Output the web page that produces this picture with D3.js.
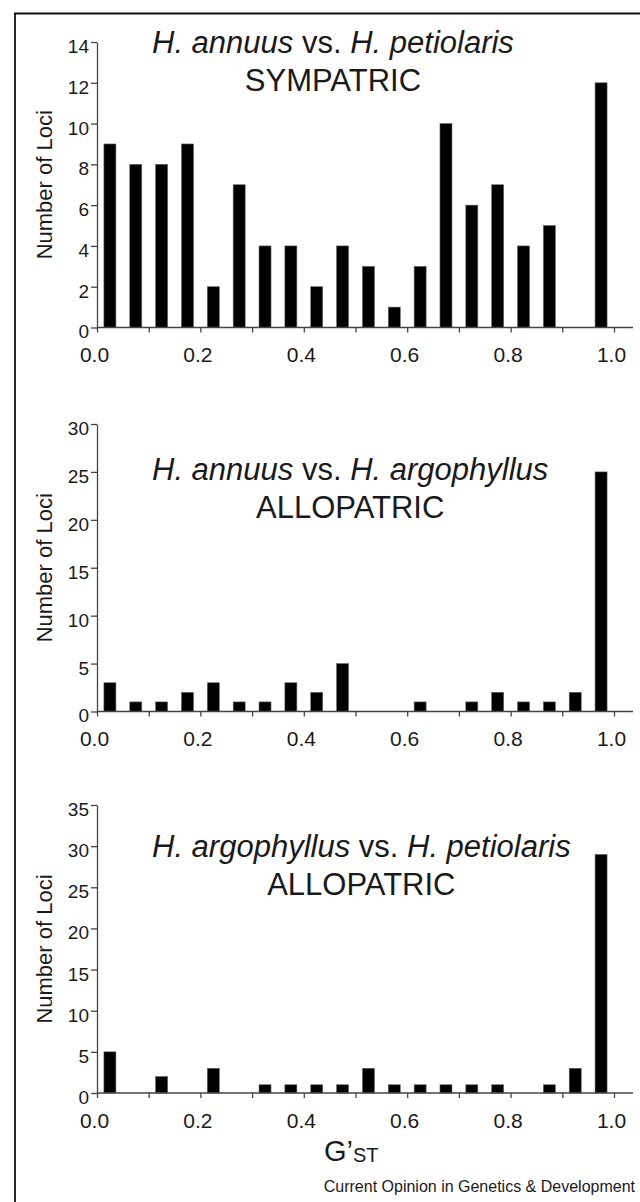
<!DOCTYPE html>
<html>
<head>
<meta charset="utf-8">
<script src="https://cdn.jsdelivr.net/npm/d3@7"></script>
<style>
  html, body { margin: 0; padding: 0; background: #fff; }
  svg { display: block; }
  text { font-family: "Liberation Sans", Arial, Helvetica, sans-serif; fill: #1a1a1a; }
</style>
</head>
<body>
<svg id="chart" width="640" height="1202"></svg>
<script>
// ---- data ----
const binCenters = [0.025, 0.075, 0.125, 0.175, 0.225, 0.275, 0.325, 0.375, 0.425, 0.475,
                    0.525, 0.575, 0.625, 0.675, 0.725, 0.775, 0.825, 0.875, 0.925, 0.975];
const sympatricCounts = [9, 8, 8, 9, 2, 7, 4, 4, 2, 4, 3, 1, 3, 10, 6, 7, 4, 5, 0, 12];
const annArgCounts    = [3, 1, 1, 2, 3, 1, 1, 3, 2, 5, 0, 0, 1, 0, 1, 2, 1, 1, 2, 25];
const argPetCounts    = [5, 0, 2, 0, 3, 0, 1, 1, 1, 1, 3, 1, 1, 1, 1, 1, 0, 1, 3, 29];
const xTickValues = [0, 0.1, 0.2, 0.3, 0.4, 0.5, 0.6, 0.7, 0.8, 0.9, 1.0];
const xTickLabels = ["0.0", "", "0.2", "", "0.4", "", "0.6", "", "0.8", "", "1.0"];
const yMax1 = 14, yMax2 = 30, yMax3 = 35;
const yStep1 = 2, yStep2 = 5, yStep3 = 5;
const titles1 = [["H. annuus", true], [" vs. ", false], ["H. petiolaris", true]];
const titles2 = [["H. annuus", true], [" vs. ", false], ["H. argophyllus", true]];
const titles3 = [["H. argophyllus", true], [" vs. ", false], ["H. petiolaris", true]];
const subtitle1 = "SYMPATRIC", subtitle2 = "ALLOPATRIC", subtitle3 = "ALLOPATRIC";
const yLabel = "Number of Loci";
const credit = "Current Opinion in Genetics & Development";

// ---- layout ----
const svg = d3.select("#chart");
const X0 = 97, X1 = 614, XEND = 633;
const barHalf = 0.0116;

// frame
svg.append("line").attr("x1", 14).attr("x2", 640).attr("y1", 13.5).attr("y2", 13.5)
   .attr("stroke", "#111").attr("stroke-width", 1.8);
svg.append("line").attr("x1", 15).attr("x2", 15).attr("y1", 13).attr("y2", 1202)
   .attr("stroke", "#111").attr("stroke-width", 1.8);

const x = d3.scaleLinear().domain([0, 1]).range([X0, X1]);

const panels = [
  { counts: sympatricCounts, yMax: yMax1, step: yStep1, top: 42, bottom: 327.5, title: titles1, sub: subtitle1, t1: 53, t2: 91 },
  { counts: annArgCounts,    yMax: yMax2, step: yStep2, top: 424, bottom: 711.5, title: titles2, sub: subtitle2, t1: 480, t2: 518 },
  { counts: argPetCounts,    yMax: yMax3, step: yStep3, top: 805, bottom: 1093, title: titles3, sub: subtitle3, t1: 857, t2: 895 }
];

panels.forEach(p => {
  const y = d3.scaleLinear().domain([0, p.yMax]).range([p.bottom, p.top]);
  const g = svg.append("g");

  // bars
  g.selectAll("rect.bar").data(binCenters.map((c, i) => ({ c, v: p.counts[i] })).filter(d => d.v > 0))
    .enter().append("rect").attr("class", "bar")
    .attr("x", d => x(d.c - barHalf))
    .attr("width", d => x(d.c + barHalf) - x(d.c - barHalf))
    .attr("y", d => y(d.v))
    .attr("height", d => y(0) - y(d.v))
    .attr("fill", "#000")
    .attr("stroke", "#666").attr("stroke-width", 0.6);

  // y axis
  const yTicks = d3.range(0, p.yMax + 0.001, p.step);
  const ya = g.append("g").attr("transform", `translate(${X0},0)`)
    .call(d3.axisLeft(y).tickValues(yTicks).tickSize(6).tickSizeOuter(0).tickPadding(2));
  ya.select(".domain").attr("stroke", "#444").attr("stroke-width", 1.3);
  ya.selectAll(".tick line").attr("stroke", "#444").attr("stroke-width", 1.3);
  ya.selectAll(".tick text").attr("font-size", 19).attr("dy", "0.55em")
    .style("font-family", '"Liberation Sans", Arial, sans-serif').attr("fill", "#1a1a1a");

  // x axis
  const xa = g.append("g").attr("transform", `translate(0,${p.bottom})`)
    .call(d3.axisBottom(x).tickValues(xTickValues).tickSize(5).tickSizeOuter(0).tickPadding(15)
      .tickFormat((d, i) => xTickLabels[i]));
  xa.select(".domain").remove();
  xa.selectAll(".tick line").attr("stroke", "#444").attr("stroke-width", 1.3);
  xa.selectAll(".tick text").attr("font-size", 21).attr("dx", -3)
    .style("font-family", '"Liberation Sans", Arial, sans-serif').attr("fill", "#1a1a1a");
  g.append("line").attr("x1", X0).attr("x2", XEND).attr("y1", p.bottom).attr("y2", p.bottom)
    .attr("stroke", "#444").attr("stroke-width", 1.3);

  // y label
  g.append("text")
    .attr("transform", `translate(52,${(p.top + p.bottom) / 2}) rotate(-90)`)
    .attr("text-anchor", "middle").attr("font-size", 22).text(yLabel);

  // titles
  const t = g.append("text").attr("x", 152).attr("y", p.t1).attr("font-size", 31);
  p.title.forEach(([s, it]) => {
    t.append("tspan").attr("font-style", it ? "italic" : "normal").text(s);
  });
  const tw = t.node().getComputedTextLength();
  g.append("text").attr("x", 152 + tw / 2).attr("y", p.t2).attr("text-anchor", "middle")
    .attr("font-size", 31).text(p.sub);
});

// x axis title G'ST
const gx = svg.append("text").attr("x", 324).attr("y", 1161).attr("font-size", 29);
gx.append("tspan").text("G’");
gx.append("tspan").attr("font-size", 20).attr("dy", 1).text("ST");

// credit
svg.append("text").attr("x", 635).attr("y", 1192).attr("text-anchor", "end")
  .attr("font-size", 16).text(credit);
</script>
</body>
</html>
